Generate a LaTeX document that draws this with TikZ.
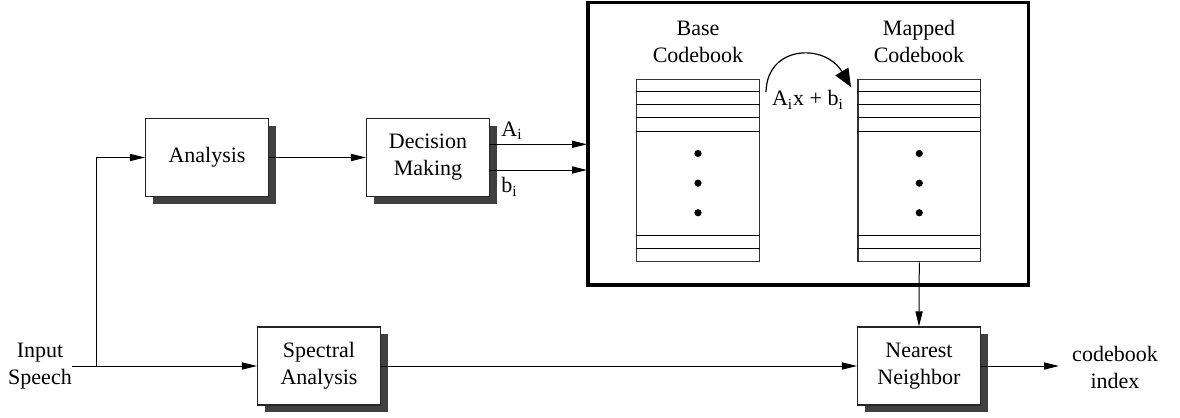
\documentclass[tikz,border=0pt]{standalone}
\usepackage{fontspec}
\setmainfont{LiberationSerif}[Extension=.ttf,UprightFont=*-Regular,BoldFont=*-Bold,ItalicFont=*-Italic]
\usetikzlibrary{shadows,arrows.meta}
\begin{document}
\begin{tikzpicture}[x=0.5pt,y=-0.5pt,
  font=\fontsize{11pt}{13.5pt}\selectfont,
  block/.style={draw=black!85,line width=0.6pt,fill=white,minimum width=61.5pt,minimum height=39pt,
    align=center,inner sep=1pt,
    drop shadow={shadow xshift=3.5pt,shadow yshift=-3.5pt,fill=black!75,opacity=1}},
  book/.style={draw=black!80,line width=0.55pt,minimum width=61.3pt,minimum height=91.3pt,inner sep=0pt},
  lbl/.style={align=center,inner sep=0pt},
  conn/.style={line width=0.5pt},
  arr/.style={conn,-{Triangle[length=7.5pt,width=3.6pt]}},
  dot/.style={fill=black,circle,inner sep=0pt,minimum size=3.6pt}]
\useasboundingbox (0,0) rectangle (1180,418);

% big box
\draw[line width=1.6pt] (588,2.5) rectangle (1028.5,285);

% blocks
\node[block] (ana) at (207,157.5) {Analysis};
\node[block] (dec) at (428,157.5) {Decision\\Making};
\node[block] (spec) at (319,366) {Spectral\\Analysis};
\node[block] (nn) at (919,366) {Nearest\\Neighbor};

% codebooks
\node[book] (base) at (698,170.6) {};
\node[book] (map) at (919.3,170.6) {};
\foreach \b in {base,map}{
  \foreach \yy in {13,26,39,52.4,156.4,169.4}{
    \draw[line width=0.5pt] ([yshift=-\yy*0.5pt]\b.north west) -- ([yshift=-\yy*0.5pt]\b.north east);
  }
  \node[dot] at ([yshift=-74.7*0.5pt]\b.north) {};
  \node[dot] at ([yshift=-104.4*0.5pt]\b.north) {};
  \node[dot] at ([yshift=-134*0.5pt]\b.north) {};
}
\node[lbl] (basel) at (698,41.5) {Base\\Codebook};
\node[lbl] (mapl) at (919,41.5) {Mapped\\Codebook};

% mapping arrow
\coordinate (arcS) at (766,92);
\coordinate (arcE) at (851,87);
\draw[line width=0.6pt,-{Triangle[length=9pt,width=7.5pt]}] (arcS) .. controls (767,45) and (825,43) .. (arcE);
\node[lbl] (mapf) at (808,100) {A\textsubscript{i}x + b\textsubscript{i}};

% input
\node[lbl] (inp) at (40,366.5) {Input\\Speech};
\coordinate (inpE) at (72,366);
\coordinate (junc) at (96,366);
\coordinate (up) at (96,157.5);
\draw[conn] (inpE) -- (junc);
\draw[arr] (junc) -- (spec.west);
\draw[arr] (junc) -- (up) -- (ana.west);
\draw[arr] (ana.east) -- (dec.west);

% A_i, b_i
\coordinate (aE) at (587,144.3);
\coordinate (bE) at (587,170);
\draw[arr] (dec.east |- aE) -- (aE);
\draw[arr] (dec.east |- bE) -- (bE);
\node[lbl,anchor=west] (al) at (501,131) {A\textsubscript{i}};
\node[lbl,anchor=west] (bl) at (501,187) {b\textsubscript{i}};

\draw[arr] (spec.east) -- (nn.west);
\draw[arr] (map.south) -- (nn.north);

\coordinate (outE) at (1059,366);
\draw[arr] (nn.east) -- (outE);
\node[lbl] (cbi) at (1115,367.5) {codebook\\index};
\end{tikzpicture}
\end{document}
